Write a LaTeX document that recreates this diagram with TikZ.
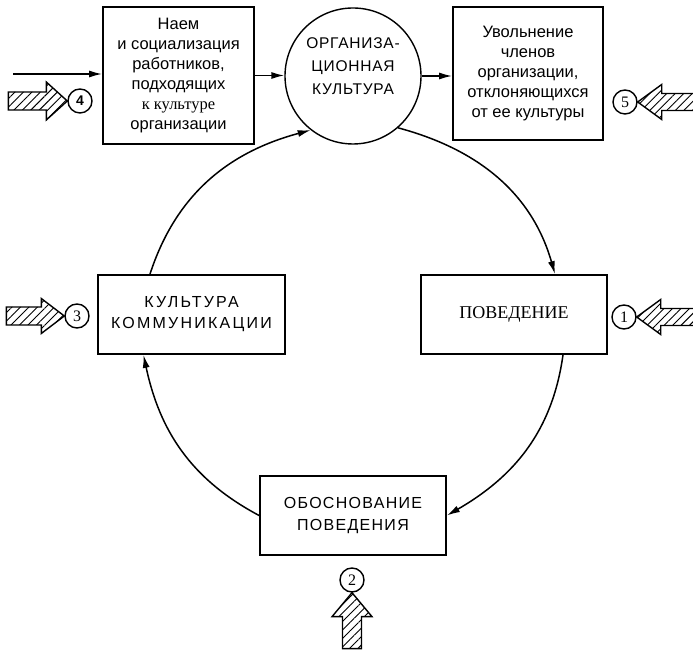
\documentclass[tikz,border=0pt]{standalone}
\usepackage{fontspec}
\setmainfont{Liberation Sans}
\newfontfamily\serifru{Liberation Serif}
\usetikzlibrary{arrows.meta,patterns.meta,calc}
\begin{document}
\begin{tikzpicture}[x=1pt,y=1pt,
  box/.style={draw,line width=1.8pt,rectangle,inner sep=0pt,align=center},
  txtA/.style={font=\fontsize{16.5}{20}\selectfont},
  num/.style={draw,circle,line width=1.4pt,minimum size=24pt,inner sep=0pt,font=\serifru\fontsize{16}{16}\selectfont},
  conn/.style={line width=1.5pt,-{Latex[length=13pt,width=7pt]}},
  hatch/.style={line width=1.4pt,line join=miter,pattern={Lines[angle=45,distance=6pt,line width=0.9pt]}},
]
\clip (0,0) rectangle (693,650);
\fill[white] (0,0) rectangle (693,650);

% main nodes
\node[box,txtA,minimum width=151pt,minimum height=137pt] (a) at (178.5,574.5)
  {Наем\\и социализация\\работников,\\подходящих\\{\serifru к культуре}\\организации};
\node[draw,circle,line width=1.4pt,minimum size=136pt,inner sep=0pt,align=center,
  font=\fontsize{15.5}{23}\selectfont\addfontfeature{LetterSpace=5}] (c) at (353,574)
  {\raisebox{0pt}[0pt][0pt]{}ОРГАНИЗА-\\ЦИОННАЯ\\КУЛЬТУРА\\[-4pt]\mbox{}};
\node[box,txtA,minimum width=150pt,minimum height=133pt] (b) at (528,576.5)
  {Увольнение\\членов\\организации,\\отклоняющихся\\от ее культуры};
\node[box,minimum width=187pt,minimum height=79pt,
  font=\fontsize{16}{21}\selectfont\addfontfeature{LetterSpace=14}] (k) at (191.5,335.5)
  {КУЛЬТУРА\\КОММУНИКАЦИИ};
\node[box,minimum width=186pt,minimum height=79pt,
  font=\serifru\fontsize{18}{22}\selectfont] (p) at (514,335.5) {ПОВЕДЕНИЕ};
\node[box,minimum width=186pt,minimum height=79pt,
  font=\fontsize{16}{22}\selectfont\addfontfeature{LetterSpace=8}] (o) at (353,134.5)
  {ОБОСНОВАНИЕ\\ПОВЕДЕНИЯ};

% number circles
\node[num,font=\bfseries\fontsize{14}{14}\selectfont] (n4) at (80,549) {4};
\node[num] (n5) at (625,548) {5};
\node[num] (n3) at (77,334) {3};
\node[num] (n1) at (624,333) {1};
\node[num] (n2) at (352,70) {2};

% straight connectors
\coordinate (in4) at (13,576);
\draw[conn] (in4) -- (in4 -| a.west);
\draw[conn] (a.east) -- (a.east -| c.west);
\draw[conn] (c.east) -- (c.east -| b.west);

% cycle connectors
\draw[conn] (c.-49) to[out=-15,in=106] ([xshift=41pt]p.north);
\draw[conn] ([xshift=49pt]p.south) to[out=-98,in=30] (o.east);
\draw[conn] (o.west) to[out=152,in=-78] ([xshift=-48pt]k.south);
\draw[conn] ([xshift=-41.5pt]k.north) to[out=72,in=195] (c.232);

% hatched block arrows
\draw[hatch] (n4.west) -- ++(-21,19) -- ++(0,-10) -- ++(-38,0) -- ++(0,-18) -- ++(38,0) -- ++(0,-10) -- cycle;
\draw[hatch] (n3.west) -- ++(-23,17.5) -- ++(0,-8.5) -- ++(-35,0) -- ++(0,-18) -- ++(35,0) -- ++(0,-8.5) -- cycle;
\draw[hatch] (n5.east) -- ++(24,17.5) -- ++(0,-9) -- ++(40,0) -- ++(0,-17) -- ++(-40,0) -- ++(0,-9) -- cycle;
\draw[hatch] (n1.east) -- ++(24,17.5) -- ++(0,-9) -- ++(40,0) -- ++(0,-17) -- ++(-40,0) -- ++(0,-9) -- cycle;
\draw[hatch] (n2.south) -- ++(20,-24) -- ++(-10.5,0) -- ++(0,-32) -- ++(-19,0) -- ++(0,32) -- ++(-10.5,0) -- cycle;
\end{tikzpicture}
\end{document}
